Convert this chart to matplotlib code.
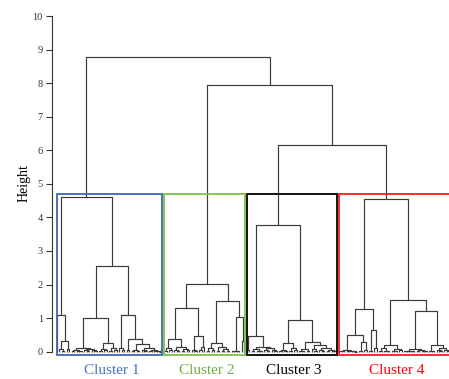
import matplotlib
matplotlib.use("Agg")
import matplotlib.pyplot as plt
from matplotlib.patches import Rectangle

# dendrogram data: node = [height, left, right], leaf = 0
cluster1 = [4.6,
            [1.1, 0, [0.33, [0.07, 0, [0.03, 0, 0]], [0.08, 0, 0]]],
            [2.55,
             [1.0,
              [0.12, [0.06, [0.02, 0, 0], [0.03, 0, [0.01, 0, 0]]],
                     [0.09, [0.04, 0, [0.01, 0, 0]], [0.05, 0, [0.02, 0, 0]]]],
              [0.26, [0.08, [0.02, 0, 0], [0.04, 0, 0]], [0.12, [0.03, 0, 0], [0.05, 0, 0]]]],
             [1.1,
              [0.1, 0, [0.04, 0, 0]],
              [0.37, [0.05, 0, 0],
               [0.22, [0.06, [0.02, 0, 0], [0.03, 0, 0]],
                      [0.1, [0.04, 0, [0.01, 0, 0]],
                            [0.06, [0.01, 0, 0], [0.02, 0, [0.01, 0, [0.005, 0, 0]]]]]]]]]]

cluster2 = [2.02,
            [1.3,
             [0.37, [0.1, [0.03, 0, 0], [0.05, 0, 0]],
                    [0.15, [0.06, 0, [0.02, 0, 0]], [0.08, [0.03, 0, 0], [0.04, 0, 0]]]],
             [0.47, [0.04, 0, [0.02, 0, 0]], [0.15, [0.05, 0, 0], 0]]],
            [1.52,
             [0.25, [0.1, [0.02, 0, 0], [0.04, 0, 0]],
                    [0.15, [0.03, 0, 0], [0.07, [0.02, 0, 0], [0.03, 0, 0]]]],
             [1.02, [0.03, [0.01, 0, 0], [0.02, 0, 0]], [0.33, 0, 0]]]]

cluster3 = [3.78,
            [0.48, [0.06, 0, 0],
             [0.15, [0.08, [0.02, 0, 0], [0.03, 0, [0.01, 0, 0]]],
                    [0.1, [0.04, 0, [0.01, 0, 0]], [0.05, 0, [0.02, 0, 0]]]]],
            [0.95,
             [0.25, [0.05, [0.01, 0, 0], [0.02, 0, 0]], [0.1, [0.02, 0, 0], [0.04, 0, 0]]],
             [0.29, [0.07, [0.02, 0, [0.01, 0, 0]], [0.03, 0, 0]],
                    [0.2, [0.08, 0, [0.03, 0, 0]],
                          [0.12, [0.04, 0, [0.01, 0, 0]],
                                 [0.06, [0.01, 0, 0], [0.02, 0, [0.01, 0, 0]]]]]]]]

cluster4 = [4.56,
            [1.27,
             [0.5, [0.06, [0.02, [0.01, 0, 0], 0],
                          [0.03, [0.01, 0, 0], [0.015, 0, [0.005, 0, 0]]]],
                   [0.28, [0.02, 0, 0], [0.04, 0, 0]]],
             [0.65, [0.02, 0, 0], [0.12, 0, 0]]],
            [1.55,
             [0.2, [0.1, [0.02, 0, 0], [0.03, 0, [0.01, 0, 0]]],
                   [0.08, [0.02, 0, [0.01, 0, 0]], [0.04, 0, 0]]],
             [1.2,
              [0.07, [0.03, [0.01, 0, 0], [0.02, 0, [0.01, 0, 0]]],
                     [0.04, [0.01, 0, 0], [0.02, 0, [0.01, 0, 0]]]],
              [0.2, [0.03, 0, [0.01, 0, 0]],
                    [0.1, [0.04, 0, [0.01, 0, 0]], [0.06, 0, [0.02, 0, 0]]]]]]]

# upper merges: (3,4), (2,34), (1,234)
top_heights = [6.15, 7.95, 8.78]

clusters = [cluster1, cluster2, cluster3, cluster4]
cluster_labels = ["Cluster 1", "Cluster 2", "Cluster 3", "Cluster 4"]
box_colors = ["#3e66b3", "#7cbf4a", "#000000", "#ff1a1a"]
label_colors = ["#4472c4", "#70ad47", "#000000", "#ff0000"]
box_top = 4.69

fig = plt.figure(figsize=(4.49, 3.79), dpi=100)
ax = fig.add_axes([0.1169, 0.0588, 0.9009, 0.8989])

counter = [0]

def draw(node):
    if node == 0:
        x = counter[0]
        counter[0] += 1
        return x, 0.0
    h, l, r = node
    xl, hl = draw(l)
    xr, hr = draw(r)
    ax.plot([xl, xl, xr, xr], [hl, h, h, hr], color="#3a3a3a", lw=0.85,
            solid_capstyle="butt")
    return (xl + xr) / 2, h

def count(node):
    return 1 if node == 0 else count(node[1]) + count(node[2])

tree = [top_heights[2], cluster1,
        [top_heights[1], cluster2, [top_heights[0], cluster3, cluster4]]]
draw(tree)

# boxes around each cluster's leaves
start = 0
for i, c in enumerate(clusters):
    n = count(c)
    x0 = start - 0.1
    x1 = start + n - 1 + 0.1
    ax.add_patch(Rectangle((x0, -0.1), x1 - x0, box_top + 0.1, fill=False,
                           edgecolor=box_colors[i], lw=1.3, clip_on=False, zorder=3))
    ax.text((x0 + x1) / 2 + 0.8, -0.55, cluster_labels[i], color=label_colors[i],
            ha="center", va="center", fontsize=11, family="Liberation Serif",
            clip_on=False)
    start += n

ax.set_xlim(-1.8, 160)
ax.set_ylim(-0.15, 10)
for s in ["top", "right", "bottom"]:
    ax.spines[s].set_visible(False)
ax.spines["left"].set_bounds(0, 10)
ax.spines["left"].set_color("#333333")
ax.spines["left"].set_linewidth(0.8)
ax.set_xticks([])
ax.set_yticks(range(0, 11))
ax.tick_params(axis="y", length=4, width=0.8, color="#333333", labelsize=7.5,
               labelcolor="#333333", pad=3)
for t in ax.get_yticklabels():
    t.set_family("Liberation Serif")
ax.set_ylabel("Height", family="Liberation Serif", fontsize=10)
ax.yaxis.set_label_coords(-0.055, 0.51)

fig.savefig("out.png", dpi=100)
